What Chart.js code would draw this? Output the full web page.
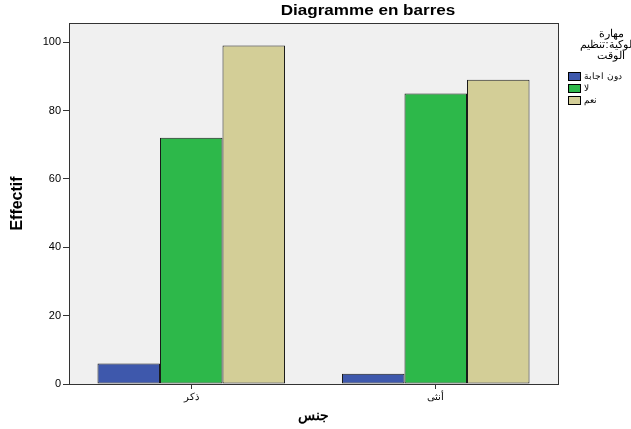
<!DOCTYPE html>
<html>
<head>
<meta charset="utf-8">
<script src="https://cdn.jsdelivr.net/npm/chart.js@4"></script>
<style>
  html, body { margin: 0; padding: 0; background: #fff; }
  #wrap { position: relative; width: 631px; height: 429px; overflow: hidden; }
  #title { position: absolute; left: 268px; width: 200px; top: 2px; text-align: center;
           font: bold 14px "Liberation Sans", Arial, sans-serif; color: #000;
           transform: scaleX(1.22); transform-origin: center; white-space: nowrap; }
  #legend { position: absolute; left: 560px; top: 28px; width: 100px;
            font: 11px "Liberation Sans", Arial, sans-serif; color: #000; }
  #legend .lt { position: relative; left: 0; width: 102px; text-align: center; line-height: 11px;
                white-space: nowrap; margin-bottom: 9px; direction: rtl; }
  #legend .it { display: flex; align-items: center; height: 12px; margin-left: 8px; }
  #legend .sw { width: 13px; height: 9px; border: 1px solid #000; margin-right: 3px; box-sizing: border-box; }
  #legend .tx { direction: rtl; font-size: 9px; }
</style>
</head>
<body>
<div id="wrap">
  <canvas id="chart" width="631" height="429"></canvas>
  <div id="title">Diagramme en barres</div>
  <div id="legend"></div>
</div>
<script>
// ── Data ─────────────────────────────────────────
const categories = ['ذكر', 'أنثى'];
const seriesNames = ['دون اجابة', 'لا', 'نعم'];
const seriesValues = [
  [6, 3],
  [72, 85],
  [99, 89],
];
const seriesColors = ['#3e58ac', '#2db84a', '#d3ce97'];
const yTicks = [0, 20, 40, 60, 80, 100];

const legendTitle = ['مهارة', 'سلوكية:تنظيم', 'الوقت'];

// ── Legend (HTML) ────────────────────────────────
const legendEl = document.getElementById('legend');
legendEl.innerHTML =
  `<div class="lt">${legendTitle.join('<br>')}</div>` +
  seriesNames.map((n, i) => `
    <div class="it"><div class="sw" style="background:${seriesColors[i]}"></div><span class="tx">${n}</span></div>
  `).join('');

// ── Plot frame + background ──────────────────────
const framePlugin = {
  id: 'frame',
  beforeDraw(chart) {
    const { ctx, chartArea: a } = chart;
    ctx.save();
    ctx.fillStyle = '#f0f0f0';
    ctx.fillRect(a.left, a.top, a.right - a.left, a.bottom - a.top);
    ctx.restore();
  },
  afterDraw(chart) {
    const { ctx, chartArea: a } = chart;
    ctx.save();
    ctx.strokeStyle = '#333';
    ctx.lineWidth = 1;
    ctx.strokeRect(a.left + 0.5, a.top + 0.5, a.right - a.left, a.bottom - a.top);
    ctx.restore();
  }
};

const font = { family: "'Liberation Sans', Arial, sans-serif", size: 10 };

new Chart(document.getElementById('chart'), {
  type: 'bar',
  data: {
    labels: categories,
    datasets: seriesNames.map((n, i) => ({
      label: n,
      data: seriesValues[i],
      backgroundColor: seriesColors[i],
      borderColor: '#1a1a1a',
      borderWidth: 1,
      borderSkipped: false,
      barPercentage: 1,
      categoryPercentage: 0.767,
    }))
  },
  options: {
    responsive: false,
    animation: false,
    layout: { padding: { top: 23, right: 73, left: 0, bottom: 0 } },
    plugins: {
      legend: { display: false },
      title: { display: false },
      tooltip: { enabled: false },
    },
    scales: {
      x: {
        grid: { drawOnChartArea: false, offset: false, tickLength: 5, color: '#333' },
        border: { color: '#333' },
        ticks: { font, color: '#000', padding: 2 },
        title: { display: true, text: 'جنس', color: '#000',
                 font: { family: font.family, size: 14, weight: 'bold' }, padding: { top: 6 } },
        afterFit(s) { s.height = 45; },
      },
      y: {
        min: 0,
        max: 105.6,
        afterBuildTicks(s) { s.ticks = yTicks.map(v => ({ value: v })); },
        grid: { drawOnChartArea: false, tickLength: 6, color: '#333' },
        border: { color: '#333' },
        ticks: { font: { family: font.family, size: 11 }, color: '#000', padding: 2 },
        title: { display: true, text: 'Effectif', color: '#000',
                 font: { family: font.family, size: 16, weight: 'bold' }, padding: { top: 8, bottom: 0 } },
        afterFit(s) { s.width = 69; },
      }
    }
  },
  plugins: [framePlugin]
});
</script>
</body>
</html>
